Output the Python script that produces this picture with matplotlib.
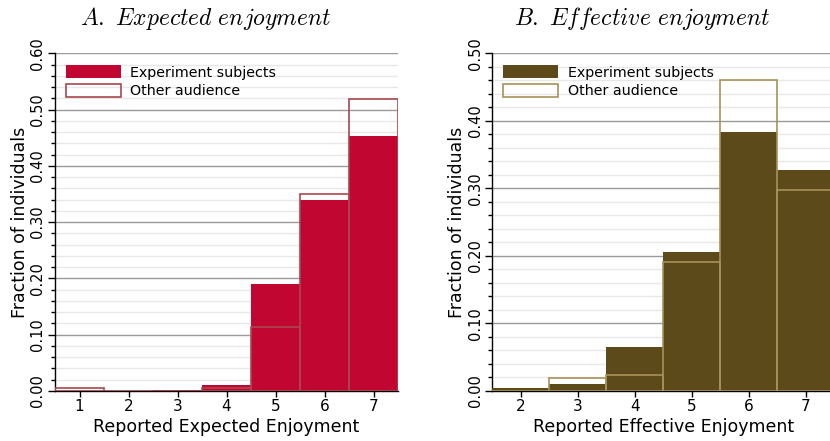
import matplotlib
matplotlib.use("Agg")
import matplotlib.pyplot as plt
from matplotlib.ticker import MultipleLocator, FormatStrFormatter

plt.rcParams['font.family'] = ['DejaVu Sans']
plt.rcParams['mathtext.fontset'] = 'cm'

# Panel A: expected enjoyment
exp_categories = [1, 2, 3, 4, 5, 6, 7]
exp_subjects = [0.0, 0.0, 0.002, 0.011, 0.190, 0.340, 0.453]
exp_other = [0.005, 0.0, 0.0, 0.005, 0.113, 0.350, 0.518]

# Panel B: effective enjoyment
eff_categories = [2, 3, 4, 5, 6, 7]
eff_subjects = [0.005, 0.010, 0.065, 0.206, 0.383, 0.327]
eff_other = [0.0, 0.019, 0.024, 0.191, 0.460, 0.298]

W, H = 830, 441
fig = plt.figure(figsize=(W / 100, H / 100), dpi=100)


def px_axes(x0, x1, y_top, y_bot):
    return fig.add_axes([x0 / W, (H - y_bot) / H, (x1 - x0) / W, (y_bot - y_top) / H])


def draw_panel(ax, cats, subj, other, fill, edge, ymax, xlim, xlabel):
    ax.bar(cats, subj, width=1.0, color=fill, edgecolor='none', zorder=3,
           label='Experiment subjects')
    ax.bar(cats, other, width=1.0, facecolor='none', edgecolor=edge,
           linewidth=1.2, zorder=4, label='Other audience')
    ax.set_xlim(*xlim)
    ax.set_ylim(0, ymax)
    ax.set_xticks(cats)
    ax.yaxis.set_major_locator(MultipleLocator(0.1))
    ax.yaxis.set_minor_locator(MultipleLocator(0.02))
    ax.yaxis.set_major_formatter(FormatStrFormatter('%.2f'))
    ax.grid(which='major', axis='y', color='#9a9a9a', linewidth=1.0, zorder=1)
    ax.grid(which='minor', axis='y', color='#e8e8e8', linewidth=1.0, zorder=0)
    ax.set_axisbelow(True)
    for s in ('top', 'right'):
        ax.spines[s].set_visible(False)
    ax.spines['left'].set_linewidth(1.0)
    ax.spines['bottom'].set_linewidth(1.0)
    ax.tick_params(axis='y', which='major', length=5, width=1.0, labelsize=10.5,
                   labelrotation=90, pad=2)
    ax.tick_params(axis='y', which='minor', length=3, width=1.0)
    ax.tick_params(axis='x', length=4, width=1.0, labelsize=11, pad=2)
    for lbl in ax.get_yticklabels():
        lbl.set_va('center')
    ax.set_xlabel(xlabel, fontsize=12.5, labelpad=3)
    ax.set_ylabel('Fraction of individuals', fontsize=12.5, labelpad=1)
    ax.legend(loc='upper left', bbox_to_anchor=(0.032, 0.965), frameon=False,
              fontsize=10.3, handlelength=3.85, handleheight=1.05,
              handletextpad=0.65, labelspacing=0.3, borderpad=0,
              borderaxespad=0)


axA = px_axes(55, 398, 53.3, 391)
draw_panel(axA, exp_categories, exp_subjects, exp_other, '#c10632', '#a8474f',
           0.6, (0.5, 7.5), 'Reported Expected Enjoyment')

axB = px_axes(492.3, 834.5, 53.3, 391)
draw_panel(axB, eff_categories, eff_subjects, eff_other, '#5d4a1a', '#a8925a',
           0.5, (1.5, 7.5), 'Reported Effective Enjoyment')

fig.text(206 / W, 1 - 19 / H, r'$\mathit{A.\ Expected\ enjoyment}$',
         ha='center', va='center', fontsize=17)
fig.text(642.5 / W, 1 - 19 / H, r'$\mathit{B.\ Effective\ enjoyment}$',
         ha='center', va='center', fontsize=17)

fig.savefig('out.png', dpi=100)
